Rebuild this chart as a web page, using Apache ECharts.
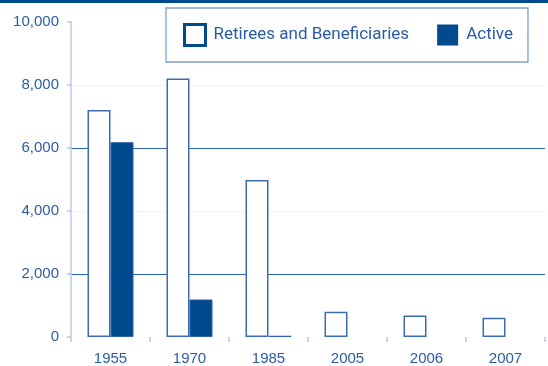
<!DOCTYPE html>
<html>
<head>
<meta charset="utf-8">
<script src="https://cdn.jsdelivr.net/npm/echarts@6/dist/echarts.min.js"></script>
<style>
html,body{margin:0;padding:0;background:#fff;}
#c{width:548px;height:366px;position:relative;}
#topband{position:absolute;left:0;top:0;width:548px;height:3px;background:#004a8d;z-index:10;}
</style>
</head>
<body>
<div id="topband"></div>
<div id="c"></div>
<script>
const categories = ['1955', '1970', '1985', '2005', '2006', '2007'];
const retirees = [7200, 8200, 4980, 800, 680, 610];
const active = [6180, 1190, 40, null, null, null];
const yTicks = [0, 2000, 4000, 6000, 8000, 10000];

const DARK = '#004a8d';
const LINE = '#3a6cb4';
const LABEL = '#2a5ca5';
const AXISFONT = '"Liberation Sans", Arial, sans-serif';
const LEGFONT = 'Roboto, "Liberation Sans", sans-serif';

const chart = echarts.init(document.getElementById('c'), null, {renderer: 'canvas'});
chart.setOption({
  animation: false,
  backgroundColor: '#fff',
  grid: {left: 71, right: 3, top: 21.7, bottom: 28.5, containLabel: false},
  legend: {
    left: 166, top: 8,
    orient: 'horizontal',
    padding: [15, 15, 15, 17],
    borderColor: '#7d9fd0', borderWidth: 1.3,
    itemWidth: 21, itemHeight: 21, itemGap: 28,
    icon: 'rect',
    textStyle: {color: LABEL, fontSize: 17, fontFamily: LEGFONT, padding: [0, 0, 0, 3]},
    data: [
      {name: 'Retirees and Beneficiaries', itemStyle: {color: '#fff', borderColor: DARK, borderWidth: 3}},
      {name: 'Active', itemStyle: {color: DARK, borderWidth: 0}}
    ]
  },
  xAxis: {
    type: 'category',
    data: categories,
    axisLine: {show: false},
    axisTick: {show: true, length: 5, lineStyle: {color: '#b8c9e4', width: 1.5}},
    axisLabel: {color: LABEL, fontSize: 15, fontFamily: AXISFONT, margin: 14}
  },
  yAxis: {
    type: 'value',
    min: yTicks[0], max: yTicks[yTicks.length - 1], interval: 2000,
    axisLine: {show: true, lineStyle: {color: '#b8c9e4', width: 1.5}},
    axisTick: {show: true, length: 4, lineStyle: {color: '#b8c9e4', width: 1.5}},
    axisLabel: {
      color: LABEL, fontSize: 15, fontFamily: AXISFONT, margin: 12,
      formatter: v => v.toLocaleString('en-US')
    },
    splitLine: {
      show: true,
      lineStyle: {color: ['rgba(0,0,0,0)', '#2d63ad', '#f2f2f2', '#2d63ad', '#f2f2f2', 'rgba(0,0,0,0)'], width: 1}
    }
  },
  series: [
    {
      name: 'Retirees and Beneficiaries',
      type: 'bar',
      data: retirees,
      barWidth: 23,
      barGap: '0%',
      itemStyle: {color: '#fff', borderColor: LINE, borderWidth: 1.5}
    },
    {
      name: 'Active',
      type: 'bar',
      data: active,
      barWidth: 23,
      barGap: '0%',
      itemStyle: {color: DARK, borderColor: '#2f62ab', borderWidth: 1}
    }
  ]
});
</script>
</body>
</html>
